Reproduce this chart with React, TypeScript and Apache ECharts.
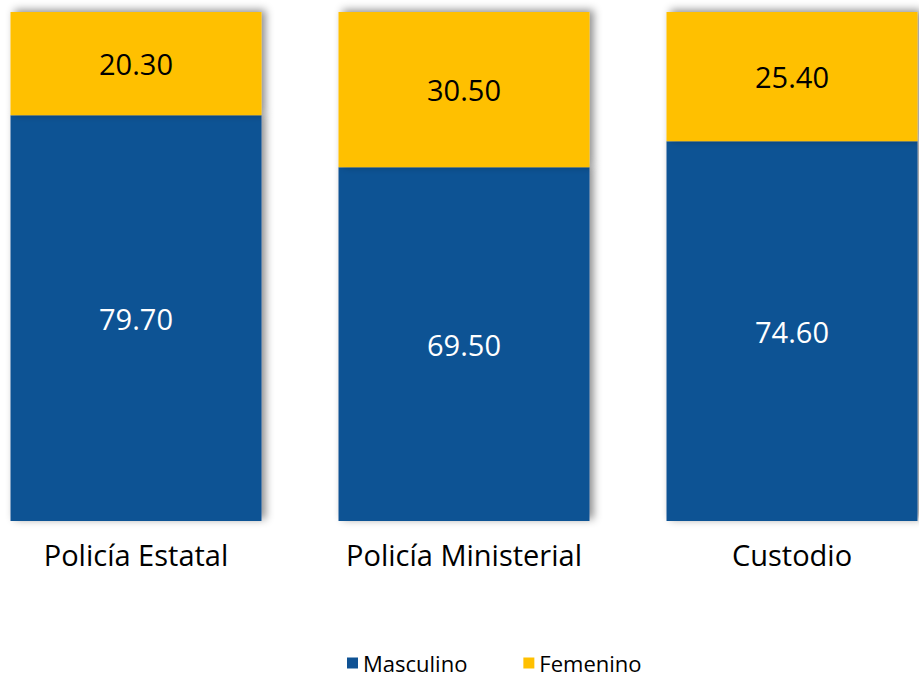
import React, { useEffect, useRef } from "react";
import * as echarts from "echarts";

const categories = ["Policía Estatal", "Policía Ministerial", "Custodio"];
const masculino = [79.7, 69.5, 74.6];
const femenino = [20.3, 30.5, 25.4];

const FONT = "'Open Sans', 'Noto Sans', sans-serif";

export default function App() {
  const ref = useRef<HTMLDivElement>(null);
  useEffect(() => {
    if (!ref.current) return;
    const chart = echarts.init(ref.current, undefined, { renderer: "svg" });
    const shadow = {
      shadowColor: "rgba(0,0,0,0.45)",
      shadowBlur: 8,
      shadowOffsetX: 4,
      shadowOffsetY: -2,
    };
    const label = (color: string) => ({
      show: true,
      position: "inside",
      formatter: (p: any) => p.value.toFixed(2),
      color,
      fontSize: 29,
      fontFamily: FONT,
    });
    chart.setOption({
      animation: false,
      backgroundColor: "#ffffff",
      textStyle: { fontFamily: FONT },
      grid: { left: 0, right: 0, top: 12, bottom: 158, containLabel: false },
      legend: {
        left: 375,
        top: 652,
        padding: 0,
        itemWidth: 11,
        itemHeight: 11,
        itemGap: 56,
        icon: "rect",
        textStyle: { fontFamily: FONT, fontSize: 22, lineHeight: 22, color: "#000" },
        data: ["Masculino", "Femenino"],
      },
      xAxis: {
        type: "category",
        data: categories,
        axisLine: { show: false },
        axisTick: { show: false },
        axisLabel: { fontFamily: FONT, fontSize: 29, color: "#000", margin: 19 },
      },
      yAxis: {
        type: "value",
        min: 0,
        max: 100,
        show: false,
        splitLine: { show: false },
      },
      series: [
        {
          name: "Masculino",
          type: "bar",
          stack: "total",
          data: masculino,
          barWidth: 251,
          itemStyle: { color: "#0F5294", ...shadow },
          label: label("#ffffff"),
        },
        {
          name: "Femenino",
          type: "bar",
          stack: "total",
          data: femenino,
          barWidth: 251,
          itemStyle: { color: "#FFC000", ...shadow },
          label: label("#000000"),
        },
      ],
    });
    return () => chart.dispose();
  }, []);
  return (
    <div
      style={{
        position: "fixed",
        left: 0,
        top: 0,
        width: 919,
        height: 679,
        overflow: "hidden",
        background: "#fff",
      }}
    >
      <div
        ref={ref}
        style={{ position: "absolute", left: -28, top: 0, width: 984, height: 679 }}
      />
    </div>
  );
}
